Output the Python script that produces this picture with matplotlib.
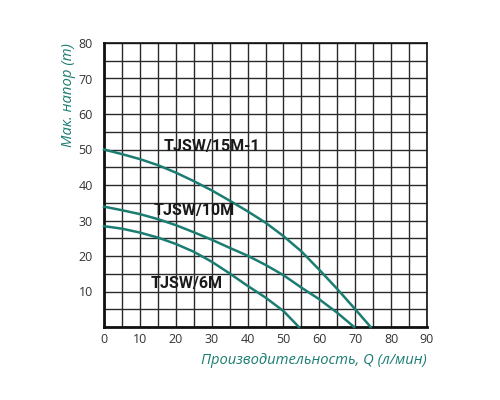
import matplotlib
matplotlib.use("Agg")
import matplotlib.pyplot as plt
import numpy as np

# Q (л/мин) and H (m)
q_15m = [0, 5, 10, 15, 20, 25, 30, 35, 40, 45, 50, 55, 60, 65, 70, 74.3]
h_15m = [50, 48.7, 47.3, 45.6, 43.5, 41.1, 38.5, 35.6, 32.6, 29.4, 25.6, 21.3, 16.1, 10.7, 5, 0]

q_10m = [0, 5, 10, 15, 20, 25, 30, 35, 40, 45, 50, 55, 60, 65, 69.7]
h_10m = [33.9, 32.9, 31.8, 30.4, 28.7, 26.7, 24.6, 22.3, 20.1, 17.5, 14.6, 11.1, 7.8, 4, 0]

q_6m = [0, 5, 10, 15, 20, 25, 30, 35, 40, 45, 50, 54.3]
h_6m = [28.4, 27.7, 26.6, 25.2, 23.4, 21.2, 18.4, 15.1, 11.6, 8.3, 4.5, 0]

labels = ["TJSW/15M-1", "TJSW/10M", "TJSW/6M"]
label_pos = [(30, 50.8), (25, 32.8), (23, 12.3)]

x_ticks = list(range(0, 91, 10))
y_ticks = list(range(10, 81, 10))

TEAL = "#1b7d72"

plt.rcParams["font.family"] = ["Open Sans", "DejaVu Sans"]

fig = plt.figure(figsize=(5, 4), dpi=100)
ax = fig.add_axes([0.208, 0.1825, 0.646, 0.71])

ax.set_xlim(0, 90)
ax.set_ylim(0, 80)
ax.set_xticks(x_ticks)
ax.set_yticks(y_ticks)
ax.set_xticks(np.arange(0, 91, 5), minor=True)
ax.set_yticks(np.arange(0, 81, 5), minor=True)
ax.grid(which="both", color="#2a2a2a", linewidth=1.0)
ax.set_axisbelow(True)
ax.tick_params(which="both", length=0)
ax.tick_params(axis="y", labelsize=9, colors="#333333", pad=8)
ax.tick_params(axis="x", labelsize=9, colors="#333333", pad=4)

for s in ax.spines.values():
    s.set_color("#111111")
    s.set_linewidth(1.2)
ax.spines["left"].set_linewidth(2)
ax.spines["bottom"].set_linewidth(2)

for q, h in [(q_15m, h_15m), (q_10m, h_10m), (q_6m, h_6m)]:
    ax.plot(q, h, color=TEAL, linewidth=1.8, clip_on=False, zorder=3,
            solid_joinstyle="round")

for text, (x, y) in zip(labels, label_pos):
    ax.text(x, y, text, fontsize=11.5, fontweight="bold", color="#1a1a1a",
            ha="center", va="center", family=["Roboto", "DejaVu Sans"], zorder=4)

ax.set_ylabel("Мак. напор (m)", fontsize=10.7, style="italic", color=TEAL)
ax.yaxis.set_label_coords(-0.088, 1.0)
ax.yaxis.label.set_ha("right")
ax.set_xlabel("Производительность, Q (л/мин)", fontsize=10.6, style="italic",
              color=TEAL)
ax.xaxis.set_label_coords(1.0, -0.093)
ax.xaxis.label.set_ha("right")

fig.savefig("out.png", dpi=100)
